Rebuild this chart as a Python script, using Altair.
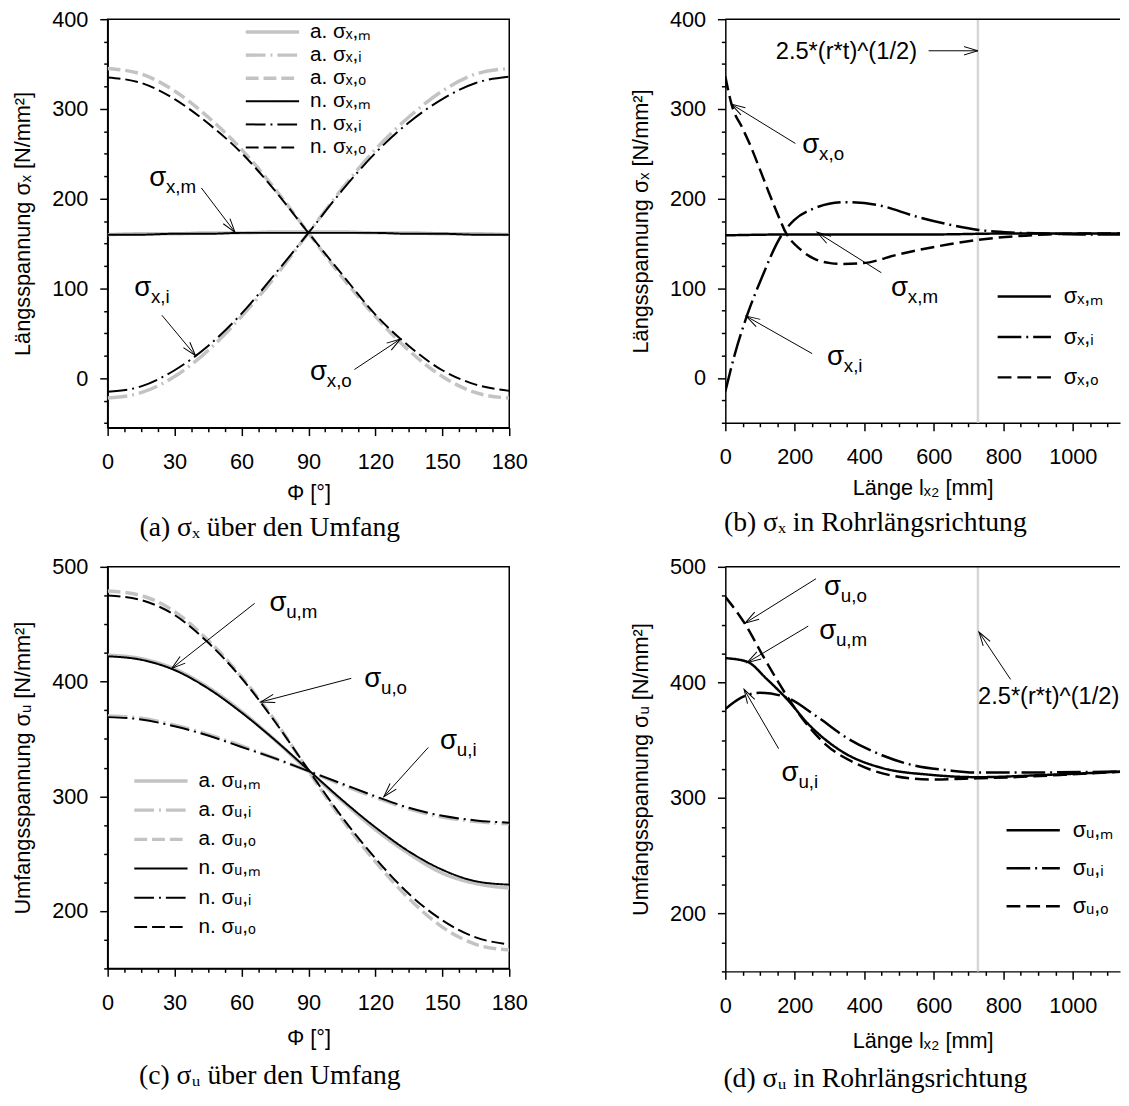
import math
import altair as alt
import pandas as pd

FONT = "Liberation Sans"
SERIF = "Liberation Serif"
BLACK = "#000000"
GRAY = "#c3c3c3"
VLINE = "#d6d6d6"

# ---------------- (a) sigma_x over the circumference ----------------
phi = [0, 15, 30, 45, 60, 75, 90, 105, 120, 135, 150, 165, 180]
a_ana_xm = [160, 161, 161, 162, 162, 163, 163, 163, 162, 162, 161, 161, 160]
a_ana_xi = [-22, -16, 2, 31, 69, 113, 162, 211, 255, 291, 320, 339, 345]
a_ana_xo = [345, 339, 320, 291, 255, 211, 162, 113, 69, 31, 2, -16, -22]
a_num_xm = [160, 160, 161, 161, 162, 162, 162, 162, 162, 161, 161, 160, 160]
a_num_xi = [-15, -9, 9, 36, 72, 116, 162, 209, 251, 285, 311, 329, 336]
a_num_xo = [335, 329, 311, 284, 251, 209, 162, 116, 71, 36, 9, -7, -14]
a_names = ["a. σₓ,ₘ", "a. σₓ,ᵢ", "a. σₓ,ₒ", "n. σₓ,ₘ", "n. σₓ,ᵢ", "n. σₓ,ₒ"]

# ---------------- (b) sigma_x along the pipe ----------------
b_len_m = [0, 200, 400, 600, 800, 1000, 1150]
b_xm = [159, 160, 160, 160, 161, 161, 161]
b_len_i = [0, 27, 61, 103, 160, 198, 255, 340, 435, 549, 644, 729, 833, 928, 1040, 1150]
b_xi = [-15, 26, 68, 110, 158, 176, 189, 196, 193, 180, 171, 165, 162, 161, 160, 160]
b_len_o = [0, 18, 50, 70, 100, 122, 150, 174, 217, 255, 302, 340, 397, 501, 644, 729, 833, 928, 1040, 1150]
b_xo = [336, 305, 278, 261, 232, 210, 183, 162, 143, 133, 128, 127, 128, 138, 149, 154, 158, 160, 161, 161]
b_names = ["σₓ,ₘ", "σₓ,ᵢ", "σₓ,ₒ"]

# ---------------- (c) sigma_u over the circumference ----------------
c_ana_um = [423, 420, 411, 395, 374, 349, 322, 296, 271, 250, 233, 224, 220]
c_ana_ui = [370, 368, 362, 354, 344, 333, 322, 310, 299, 289, 282, 278, 276]
c_ana_uo = [479, 475, 461, 436, 404, 366, 322, 280, 243, 211, 186, 171, 166]
c_num_um = [422, 419, 410, 394, 373, 349, 323, 297, 273, 252, 236, 226, 223]
c_num_ui = [369, 367, 361, 353, 343, 333, 322, 311, 300, 290, 283, 279, 277]
c_num_uo = [475, 471, 458, 434, 403, 365, 323, 282, 246, 215, 192, 177, 171]
c_names = ["a. σᵤ,ₘ", "a. σᵤ,ᵢ", "a. σᵤ,ₒ", "n. σᵤ,ₘ", "n. σᵤ,ᵢ", "n. σᵤ,ₒ"]

# ---------------- (d) sigma_u along the pipe ----------------
d_len_m = [0, 62, 119, 176, 242, 337, 451, 593, 725, 924, 1150]
d_um = [421, 418, 403, 386, 363, 340, 326, 320, 318, 320, 323]
d_len_i = [0, 47, 100, 176, 261, 355, 451, 545, 640, 725, 830, 1150]
d_ui = [377, 387, 391, 387, 371, 351, 337, 328, 324, 322, 322, 323]
d_len_o = [0, 58, 110, 157, 195, 242, 290, 375, 470, 593, 725, 830, 972, 1150]
d_uo = [474, 450, 422, 398, 380, 361, 346, 330, 320, 316, 317, 318, 320, 323]
d_names = ["σᵤ,ₘ", "σᵤ,ᵢ", "σᵤ,ₒ"]

vline_len = [727]
note_text = ["2.5*(r*t)^(1/2)"]

# annotation labels (data coordinates): text anchor, arrow start, arrow tip
a_ann_sub = ["x,m", "x,i", "x,o"]
a_ann_tx = [18.6, 11.9, 90.7]
a_ann_ty = [214.3, 91.2, -2.2]
a_ann_x0 = [42.0, 24.3, 110.6]
a_ann_y0 = [212.1, 70.3, 9.8]
a_ann_x1 = [57.1, 39.4, 131.3]
a_ann_y1 = [162.6, 25.2, 43.9]

b_ann_sub = ["x,o", "x,m", "x,i"]
b_ann_tx = [221.6, 477.0, 292.6]
b_ann_ty = [250.4, 90.9, 13.9]
b_ann_x0 = [201.7, 449.0, 250.0, 585.0]
b_ann_y0 = [261.4, 117.3, 27.1, 364.8]
b_ann_x1 = [17.0, 264.0, 59.7, 727.0]
b_ann_y1 = [305.4, 162.4, 68.9, 364.8]
b_note_xy = [145.0, 363.7]

c_ann_sub = ["u,m", "u,o", "u,i"]
c_ann_tx = [72.5, 115.0, 149.0]
c_ann_ty = [461.3, 395.0, 341.0]
c_ann_x0 = [65.9, 109.2, 143.7]
c_ann_y0 = [468.2, 402.8, 342.6]
c_ann_x1 = [28.7, 68.6, 123.8]
c_ann_y1 = [411.4, 382.2, 299.7]

d_ann_sub = ["u,o", "u,m", "u,i"]
d_ann_tx = [284.0, 270.0, 162.0]
d_ann_ty = [475.2, 437.3, 314.3]
d_ann_x0 = [261.0, 238.6, 153.4, 821.0]
d_ann_y0 = [489.7, 448.7, 342.7, 402.6]
d_ann_x1 = [56.8, 62.5, 54.0, 730.0]
d_ann_y1 = [451.3, 417.1, 394.0, 443.6]
d_note_xy = [1134.0, 387.2]

# ---------------- styles ----------------
DASH_M = [1, 0]
DASH_I = [20, 5, 2, 5]
DASH_O = [13, 5]
ARROW = "M-0.3,1L0,0L0.3,1"


def long_df(xs_list, ys_list, names):
    rows = []
    for xs, ys, n in zip(xs_list, ys_list, names):
        for x, y in zip(xs, ys):
            rows.append({"x": x, "y": y, "s": n})
    return pd.DataFrame(rows)


def make_axis(title, lo, hi, step, major, label_pad, title_pad):
    n = int(round((hi - lo) / step))
    vals = [lo + k * step for k in range(n + 1)]
    test = f"abs(datum.value % {major}) < 0.001"
    return alt.Axis(
        title=title, values=vals, grid=False, format="d",
        labelExpr=f"{test} ? datum.label : ''",
        tickSize={"condition": {"test": test, "value": 8}, "value": 4},
        labelOverlap=False, labelFlush=False,
        labelFont=FONT, labelFontSize=22, labelColor=BLACK, labelPadding=label_pad,
        titleFont=FONT, titleFontSize=22, titleFontWeight="normal", titleColor=BLACK,
        titlePadding=title_pad,
        domainColor=BLACK, domainWidth=1.5, tickColor=BLACK, tickWidth=1.5,
    )


def make_legend(lx, ly, font_size, row_pad, path, label_offset):
    return alt.Legend(
        title=None, orient="none", legendX=lx, legendY=ly, padding=0,
        symbolType=path, symbolSize=100, rowPadding=row_pad, labelOffset=label_offset,
        labelFont=FONT, labelFontSize=font_size, labelColor=BLACK, labelLimit=300,
    )


def line_layer(df, names, colors, dashes, widths, X, Y, legend):
    return alt.Chart(df).mark_line(clip=True, interpolate="monotone").encode(
        x=X("x"), y=Y("y"),
        color=alt.Color("s:N", scale=alt.Scale(domain=names, range=colors), legend=legend),
        strokeDash=alt.StrokeDash("s:N", scale=alt.Scale(domain=names, range=dashes), legend=legend),
        strokeWidth=alt.StrokeWidth("s:N", scale=alt.Scale(type="ordinal", domain=names, range=widths),
                                    legend=legend),
    )


def ann_layers(subs, tx, ty, x0, y0, x1, y1, X, Y, kx, ky):
    rows = []
    for i in range(len(x0)):
        dx = (x1[i] - x0[i]) * kx
        dy = -(y1[i] - y0[i]) * ky
        ang = math.degrees(math.atan2(dx, -dy)) % 360
        rows.append({"x0": x0[i], "y0": y0[i], "x1": x1[i], "y1": y1[i], "ang": ang})
    adf = pd.DataFrame(rows)
    tdf = pd.DataFrame({"tx": tx, "ty": ty, "sig": ["σ"] * len(subs), "sub": subs})
    rule = alt.Chart(adf).mark_rule(color=BLACK, strokeWidth=1).encode(
        x=X("x0"), y=Y("y0"), x2=alt.X2("x1:Q"), y2=alt.Y2("y1:Q"))
    head = alt.Chart(adf).mark_point(shape=ARROW, size=800, filled=False, color=BLACK,
                                     strokeWidth=1, opacity=1).encode(
        x=X("x1"), y=Y("y1"), angle=alt.Angle("ang:Q", scale=None))
    sig = alt.Chart(tdf).mark_text(align="left", baseline="alphabetic", font=FONT,
                                   fontSize=28, color=BLACK).encode(
        x=X("tx"), y=Y("ty"), text="sig:N")
    sub = alt.Chart(tdf).mark_text(align="left", baseline="alphabetic", font=FONT,
                                   fontSize=19, dx=17, dy=7, color=BLACK).encode(
        x=X("tx"), y=Y("ty"), text="sub:N")
    return [rule, head, sig, sub]


def encoders(xdom, ydom, xaxis, yaxis):
    def X(f):
        return alt.X(f"{f}:Q", scale=alt.Scale(domain=xdom, nice=False, zero=False), axis=xaxis)

    def Y(f):
        return alt.Y(f"{f}:Q", scale=alt.Scale(domain=ydom, nice=False, zero=False), axis=yaxis)
    return X, Y


def caption(text, off):
    return alt.TitleParams(text=text, orient="bottom", anchor="middle", frame="bounds",
                           font=SERIF, fontSize=28, fontWeight="normal", color=BLACK, offset=off)


def top_border(W):
    return alt.Chart(pd.DataFrame({"z": [0]})).mark_rule(color=BLACK, strokeWidth=1.5).encode(
        x=alt.value(0), x2=alt.value(W), y=alt.value(0))


# ---------------- panel (a) ----------------
WA, HA = 407, 414
XA, YA = encoders([0, 180], [-55, 400],
                  make_axis("Φ [°]", 0, 180, 7.5, 30, 16, 11),
                  make_axis("Längsspannung σₓ [N/mm²]", -50, 400, 25, 100, 12, 17))
leg_a = make_legend(140, 2.5, 21, 1.4, "M-2.1,0H8.7", 44)
cols6 = [GRAY, GRAY, GRAY, BLACK, BLACK, BLACK]
dash6 = [DASH_M, DASH_I, DASH_O, DASH_M, DASH_I, DASH_O]
wid6 = [3.5, 3.5, 3.5, 2, 2, 2]
a_ana = long_df([phi] * 3, [a_ana_xm, a_ana_xi, a_ana_xo], a_names[:3])
a_num = long_df([phi] * 3, [a_num_xm, a_num_xi, a_num_xo], a_names[3:])
panel_a = alt.layer(
    line_layer(a_ana, a_names, cols6, dash6, wid6, XA, YA, leg_a),
    line_layer(a_num, a_names, cols6, dash6, wid6, XA, YA, leg_a),
    *ann_layers(a_ann_sub, a_ann_tx, a_ann_ty, a_ann_x0, a_ann_y0, a_ann_x1, a_ann_y1,
                XA, YA, WA / 180, HA / 455),
).properties(width=WA, height=HA, title=caption("(a) σₓ über den Umfang", 11))

# ---------------- panel (b) ----------------
WB, HB = 400, 409
XB, YB = encoders([0, 1136], [-50, 400],
                  make_axis("Länge lₓ₂ [mm]", 0, 1100, 50, 200, 16, 11),
                  make_axis("Längsspannung σₓ [N/mm²]", -50, 400, 25, 100, 12, 17))
leg_b = make_legend(276, 270, 22, 19, "M-2.2,0H8.6", 45)
b_df = long_df([b_len_m, b_len_i, b_len_o], [b_xm, b_xi, b_xo], b_names)
b_vl = alt.Chart(pd.DataFrame({"x": vline_len})).mark_rule(color=VLINE, strokeWidth=2.5).encode(x=XB("x"))
b_note = alt.Chart(pd.DataFrame({"x": [b_note_xy[0]], "y": [b_note_xy[1]], "t": note_text})).mark_text(
    align="left", baseline="middle", font=FONT, fontSize=24, color=BLACK).encode(x=XB("x"), y=YB("y"), text="t:N")
panel_b = alt.layer(
    b_vl,
    top_border(WB),
    line_layer(b_df, b_names, [BLACK] * 3, [DASH_M, [24, 5, 2, 5], [14, 6]], [2.5, 2.5, 2.5], XB, YB, leg_b),
    *ann_layers(b_ann_sub, b_ann_tx, b_ann_ty, b_ann_x0, b_ann_y0, b_ann_x1, b_ann_y1,
                XB, YB, WB / 1136, HB / 450),
    b_note,
).properties(width=WB, height=HB, title=caption("(b) σₓ in Rohrlängsrichtung", 11),
             view=alt.ViewBackground(strokeOpacity=0))

# ---------------- panel (c) ----------------
WC, HC = 407, 407
XC, YC = encoders([0, 180], [150, 500],
                  make_axis("Φ [°]", 0, 180, 7.5, 30, 17, 14),
                  make_axis("Umfangsspannung σᵤ [N/mm²]", 150, 500, 25, 100, 12, 17))
leg_c = make_legend(27, 206.5, 21, 7.6, "M-2.1,0H8.7", 44)
c_ana = long_df([phi] * 3, [c_ana_um, c_ana_ui, c_ana_uo], c_names[:3])
c_num = long_df([phi] * 3, [c_num_um, c_num_ui, c_num_uo], c_names[3:])
panel_c = alt.layer(
    line_layer(c_ana, c_names, cols6, dash6, wid6, XC, YC, leg_c),
    line_layer(c_num, c_names, cols6, dash6, wid6, XC, YC, leg_c),
    *ann_layers(c_ann_sub, c_ann_tx, c_ann_ty, c_ann_x0, c_ann_y0, c_ann_x1, c_ann_y1,
                XC, YC, WC / 180, HC / 350),
).properties(width=WC, height=HC, title=caption("(c) σᵤ über den Umfang", 14))

# ---------------- panel (d) ----------------
WD, HD = 400, 410
XD, YD = encoders([0, 1136], [150, 500],
                  make_axis("Länge lₓ₂ [mm]", 0, 1100, 50, 200, 17, 14),
                  make_axis("Umfangsspannung σᵤ [N/mm²]", 150, 500, 25, 100, 12, 17))
leg_d = make_legend(285, 256, 22, 16.5, "M-2.2,0H8.6", 45)
d_df = long_df([d_len_m, d_len_i, d_len_o], [d_um, d_ui, d_uo], d_names)
d_vl = alt.Chart(pd.DataFrame({"x": vline_len})).mark_rule(color=VLINE, strokeWidth=2.5).encode(x=XD("x"))
d_note = alt.Chart(pd.DataFrame({"x": [d_note_xy[0]], "y": [d_note_xy[1]], "t": note_text})).mark_text(
    align="right", baseline="middle", font=FONT, fontSize=24, color=BLACK).encode(x=XD("x"), y=YD("y"), text="t:N")
panel_d = alt.layer(
    d_vl,
    top_border(WD),
    line_layer(d_df, d_names, [BLACK] * 3, [DASH_M, [24, 5, 2, 5], [14, 6]], [2.5, 2.5, 2.5], XD, YD, leg_d),
    *ann_layers(d_ann_sub, d_ann_tx, d_ann_ty, d_ann_x0, d_ann_y0, d_ann_x1, d_ann_y1,
                XD, YD, WD / 1136, HD / 350),
    d_note,
).properties(width=WD, height=HD, title=caption("(d) σᵤ in Rohrlängsrichtung", 14),
             view=alt.ViewBackground(strokeOpacity=0))

IND = dict(color="independent", strokeDash="independent", strokeWidth="independent")

row1 = alt.hconcat(panel_a, panel_b, spacing=102).resolve_scale(**IND).resolve_legend(**IND)
row2 = alt.hconcat(panel_c, panel_d, spacing=102).resolve_scale(**IND).resolve_legend(**IND)

chart = alt.vconcat(row1, row2, spacing=12).resolve_scale(**IND).resolve_legend(**IND).properties(
    padding={"left": 3, "top": -8, "right": 0, "bottom": 0},
    background="white",
).configure_view(stroke=BLACK, strokeWidth=1.5)

chart.save("out.html", embed_options={"renderer": "svg", "actions": False})
